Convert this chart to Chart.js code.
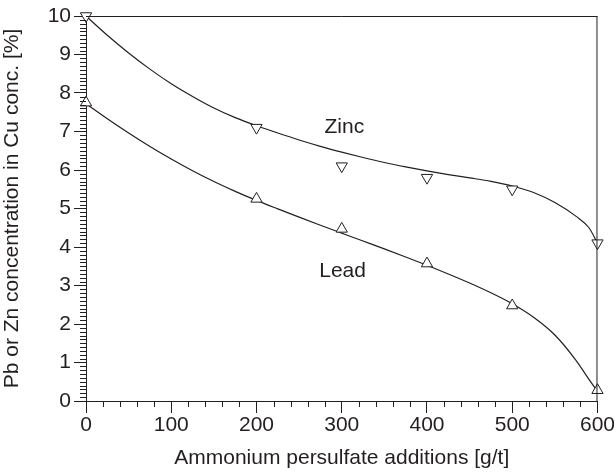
<!DOCTYPE html>
<html>
<head>
<meta charset="utf-8">
<script src="https://cdn.jsdelivr.net/npm/chart.js@4/dist/chart.umd.min.js"></script>
<style>
html,body{margin:0;padding:0;background:#fff;}
#wrap{width:615px;height:473px;position:relative;}
</style>
</head>
<body>
<div id="wrap"><canvas id="c" width="615" height="473"></canvas></div>
<script>
// Measured points
const additions = [0, 200, 300, 400, 500, 600];
const zincValues = [10.0, 7.1, 6.1, 5.8, 5.5, 4.1];
const leadValues = [7.75, 5.25, 4.47, 3.57, 2.48, 0.28];

// Fitted curves
const curveX = [0,25,50,75,100,125,150,175,200,225,250,275,300,325,350,375,400,425,450,475,500,525,550,575,590,600];
const zincCurve = [10.0,9.50,9.04,8.62,8.24,7.91,7.61,7.36,7.15,6.96,6.78,6.615,6.465,6.325,6.195,6.08,5.975,5.88,5.795,5.705,5.585,5.415,5.155,4.795,4.50,4.10];
const leadCurve = [7.72,7.33,6.96,6.61,6.285,5.98,5.70,5.445,5.21,4.99,4.775,4.565,4.36,4.155,3.95,3.74,3.525,3.30,3.065,2.81,2.525,2.175,1.715,1.05,0.56,0.25];

// Tick labels and annotations
const xTickValues = [0, 100, 200, 300, 400, 500, 600];
const yTickValues = [0,1,2,3,4,5,6,7,8,9,10];
const seriesLabels = [
  {text: 'Zinc', x: 303, y: 7.1},
  {text: 'Lead', x: 301, y: 3.38}
];

const FONT = '"Liberation Sans", Arial, Helvetica, sans-serif';
const FS = 21;
const INK = '#231f20';

const toXY = (xs, ys) => xs.map((x, i) => ({x: x, y: ys[i]}));

const framePlugin = {
  id: 'frame',
  afterDraw(chart) {
    const {ctx, chartArea: a, scales: {x, y}} = chart;
    ctx.save();
    ctx.strokeStyle = INK;
    ctx.lineWidth = 1;
    ctx.beginPath();
    ctx.moveTo(a.left, a.top + 0.5); ctx.lineTo(a.right, a.top + 0.5);
    ctx.moveTo(a.right - 0.5, a.top); ctx.lineTo(a.right - 0.5, a.bottom);
    ctx.stroke();
    ctx.beginPath();
    for (let v = 0; v <= 600; v += 20) {
      if (v % 100 === 0) continue;
      const px = Math.round(x.getPixelForValue(v)) + 0.5;
      ctx.moveTo(px, a.bottom); ctx.lineTo(px, a.bottom + 6);
    }
    for (let k = 0; k <= 100; k++) {
      if (k % 10 === 0) continue;
      const py = Math.round(y.getPixelForValue(k / 10)) + 0.5;
      ctx.moveTo(a.left, py); ctx.lineTo(a.left - 6, py);
    }
    ctx.stroke();
    ctx.fillStyle = INK;
    ctx.font = FS + 'px ' + FONT;
    ctx.textAlign = 'center';
    ctx.textBaseline = 'middle';
    seriesLabels.forEach(l => {
      ctx.fillText(l.text, x.getPixelForValue(l.x), y.getPixelForValue(l.y));
    });
    ctx.restore();
  }
};

new Chart(document.getElementById('c'), {
  type: 'scatter',
  data: {
    datasets: [
      {
        label: 'Zinc fit', type: 'line', data: toXY(curveX, zincCurve),
        borderColor: INK, borderWidth: 1.2, pointRadius: 0, fill: false,
        cubicInterpolationMode: 'monotone', clip: false, order: 2
      },
      {
        label: 'Lead fit', type: 'line', data: toXY(curveX, leadCurve),
        borderColor: INK, borderWidth: 1.2, pointRadius: 0, fill: false,
        cubicInterpolationMode: 'monotone', clip: false, order: 2
      },
      {
        label: 'Zinc', data: toXY(additions, zincValues),
        pointStyle: 'triangle', rotation: 180, pointRadius: 6.5,
        backgroundColor: '#fff', borderColor: INK, borderWidth: 1, clip: false, order: 1
      },
      {
        label: 'Lead', data: toXY(additions, leadValues),
        pointStyle: 'triangle', pointRadius: 6.5,
        backgroundColor: '#fff', borderColor: INK, borderWidth: 1, clip: false, order: 1
      }
    ]
  },
  options: {
    responsive: false,
    animation: false,
    layout: {padding: {top: 16, right: 16, left: 0, bottom: 0}},
    plugins: {legend: {display: false}, tooltip: {enabled: false}},
    scales: {
      x: {
        type: 'linear', min: 0, max: 600,
        afterBuildTicks: s => { s.ticks = xTickValues.map(v => ({value: v})); },
        afterFit: s => { s.height = 72; },
        ticks: {color: INK, font: {family: FONT, size: FS}, padding: 0, maxRotation: 0},
        grid: {drawOnChartArea: false, tickLength: 12, color: INK, tickWidth: 1},
        border: {color: INK, width: 1},
        title: {display: true, text: 'Ammonium persulfate additions [g/t]', color: INK,
                font: {family: FONT, size: FS}, padding: {top: 0, bottom: 2}}
      },
      y: {
        type: 'linear', min: 0, max: 10,
        afterBuildTicks: s => { s.ticks = yTickValues.map(v => ({value: v})); },
        afterFit: s => { s.width = 86; },
        ticks: {color: INK, font: {family: FONT, size: FS}, padding: 3},
        grid: {drawOnChartArea: false, tickLength: 12, color: INK, tickWidth: 1},
        border: {color: INK, width: 1},
        title: {display: true, text: 'Pb or Zn concentration in Cu conc. [%]', color: INK,
                font: {family: FONT, size: FS}, padding: {top: 0, bottom: 0}}
      }
    }
  },
  plugins: [framePlugin]
});
</script>
</body>
</html>
